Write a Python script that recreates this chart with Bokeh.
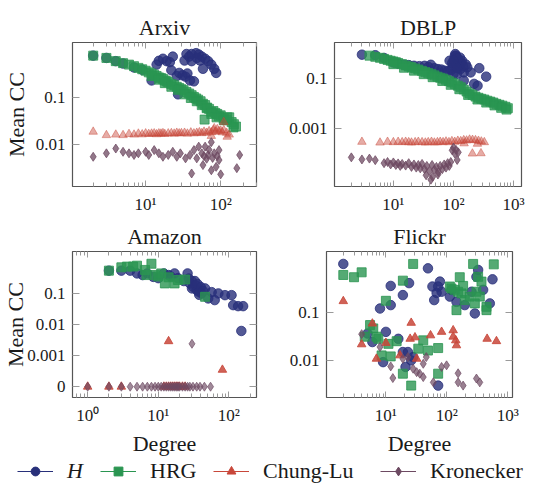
from bokeh.plotting import figure
from bokeh.layouts import column, row
from bokeh.models import Range1d, FixedTicker, LogAxis, Legend, LegendItem, CustomJSTickFormatter
from bokeh.embed import file_html
from bokeh.resources import INLINE

FONT = "Liberation Serif"
TEXT = "#1a1a1a"

# ---------------- data ----------------
# Arxiv
arxiv_H_x = [2, 3, 4, 5, 7, 9, 12, 14, 15, 17, 19, 21, 23, 22, 26, 28, 31, 34, 36, 39,
             44, 27, 33, 35, 38, 41, 47, 51, 56, 62, 68, 75, 82, 87, 58, 53, 41, 48]
arxiv_H_y = [0.83, 0.74, 0.63, 0.56, 0.46, 0.41, 0.24, 0.53, 0.64, 0.71, 0.63, 0.60, 0.79, 0.40, 0.30, 0.35, 0.31, 0.29, 0.34, 0.24,
             0.23, 0.12, 0.65, 0.90, 0.79, 0.90, 0.94, 0.88, 0.79, 0.71, 0.63, 0.53, 0.43, 0.35, 0.43, 0.65, 0.63, 0.74]
arxiv_HRG_x = [2, 3, 4, 5, 6, 7, 8, 9, 10, 11, 12, 13, 14, 15, 16, 17, 18, 19, 20, 22,
               24, 26, 28, 30, 32, 35, 38, 41, 44, 47, 50, 54, 58, 62, 66, 70, 75, 80, 85, 90,
               95, 100, 110, 120, 130, 140, 150, 160, 12, 15, 18, 22, 27, 33, 40, 48, 56, 61, 65, 75,
               88, 110, 122, 148]
arxiv_HRG_y = [0.83, 0.74, 0.63, 0.57, 0.53, 0.49, 0.45, 0.42, 0.39, 0.36, 0.34, 0.32, 0.30, 0.28, 0.27, 0.26, 0.24, 0.23, 0.22, 0.20,
               0.19, 0.175, 0.165, 0.155, 0.148, 0.135, 0.125, 0.115, 0.105, 0.098, 0.092, 0.085, 0.075, 0.07, 0.062, 0.058, 0.05, 0.052, 0.047, 0.045,
               0.04, 0.042, 0.036, 0.033, 0.038, 0.030, 0.027, 0.024, 0.30, 0.25, 0.21, 0.175, 0.15, 0.12, 0.10, 0.085, 0.07, 0.034, 0.06, 0.045,
               0.038, 0.033, 0.038, 0.023]
arxiv_CL_x = [2, 3, 4, 5, 6, 7, 8, 9, 10, 11, 12, 13, 14, 15, 16, 17, 18, 20, 22, 24,
              26, 28, 30, 33, 36, 40, 44, 48, 52, 56, 60, 65, 70, 75, 80, 85, 90, 95, 100, 105,
              110, 120, 130, 75, 110, 82, 122]
arxiv_CL_y = [0.0185, 0.0156, 0.016, 0.0156, 0.0165, 0.016, 0.0168, 0.0162, 0.017, 0.0165, 0.0168, 0.017, 0.0163, 0.017, 0.0168, 0.0172, 0.0165, 0.017, 0.0172, 0.0168,
              0.0175, 0.017, 0.0172, 0.0175, 0.0168, 0.0178, 0.017, 0.0175, 0.018, 0.0172, 0.0185, 0.0175, 0.019, 0.018, 0.02, 0.0185, 0.021, 0.019, 0.0195, 0.018,
              0.02, 0.0175, 0.016, 0.015, 0.03, 0.022, 0.0144]
arxiv_KR_x = [2, 3, 4, 5, 6, 7, 8, 10, 11, 13, 15, 17, 20, 23, 26, 29, 34, 39, 44, 48,
              51, 56, 58, 62, 68, 75, 82, 87, 95, 100, 41, 95, 179, 164, 75, 60, 65, 70, 78, 90]
arxiv_KR_y = [0.0053, 0.0063, 0.008, 0.0068, 0.0063, 0.0058, 0.0063, 0.0068, 0.0058, 0.0074, 0.0063, 0.0053, 0.0058, 0.0068, 0.0053, 0.0063, 0.0049, 0.0058, 0.0074, 0.0049,
              0.0088, 0.0063, 0.0035, 0.0088, 0.0058, 0.011, 0.0063, 0.0032, 0.0074, 0.0022, 0.0023, 0.0045, 0.0058, 0.003, 0.0027, 0.0055, 0.0048, 0.0075, 0.005, 0.0055]

# DBLP
dblp_H_x = [3, 5, 7, 10, 15, 22, 33, 42, 55, 71, 91, 107, 114, 103, 122, 139, 130, 148, 169, 193,
            268, 349, 220, 251, 148, 114, 97, 86, 100, 120, 125, 110, 12, 18, 27, 38, 48, 63, 80,
            105, 112, 118, 108, 125, 135, 145, 128, 100, 95, 116, 160]
dblp_H_y = [0.85, 0.81, 0.63, 0.42, 0.34, 0.31, 0.31, 0.34, 0.23, 0.20, 0.21, 0.90, 0.67, 0.49, 0.36, 0.49, 0.23, 0.17, 0.27, 0.17,
            0.25, 0.116, 0.06, 0.051, 0.081, 0.148, 0.31, 0.49, 0.148, 0.55, 0.42, 0.78, 0.38, 0.33, 0.30, 0.28, 0.25, 0.22, 0.19,
            0.75, 0.60, 0.45, 0.35, 0.30, 0.40, 0.30, 0.65, 0.50, 0.40, 0.25, 0.35]
dblp_HRG_x = [4, 5, 6, 7, 8, 9, 10, 11, 12, 14, 16, 18, 20, 23, 26, 30, 34, 38, 43, 48,
              54, 60, 67, 75, 84, 94, 105, 118, 132, 148, 165, 185, 207, 232, 260, 290, 325, 365, 410, 460,
              515, 580, 650, 730, 800, 10, 15, 22, 32, 45, 65, 90, 125, 175, 250, 350, 480, 620, 760]
dblp_HRG_y = [0.78, 0.70, 0.64, 0.58, 0.53, 0.49, 0.46, 0.43, 0.40, 0.36, 0.32, 0.29, 0.27, 0.245, 0.22, 0.195, 0.175, 0.16, 0.145, 0.13,
              0.115, 0.105, 0.097, 0.087, 0.077, 0.068, 0.06, 0.051, 0.044, 0.036, 0.030, 0.025, 0.022, 0.019, 0.017, 0.0155, 0.0145, 0.013, 0.012, 0.011,
              0.0098, 0.009, 0.0083, 0.0075, 0.0066, 0.36, 0.26, 0.2, 0.145, 0.11, 0.078, 0.055, 0.037, 0.022, 0.0145, 0.011, 0.0085, 0.0068, 0.0058]
dblp_CL_x = [3, 6, 8, 10, 12, 14, 16, 18, 20, 23, 26, 30, 34, 38, 43, 48, 54, 60, 67, 75,
             84, 94, 105, 118, 132, 148, 165, 185, 207, 232, 260, 290, 325, 206, 286, 150, 250]
dblp_CL_y = [0.00031, 0.00029, 0.00031, 0.0003, 0.00031, 0.0003, 0.00031, 0.0003, 0.00029, 0.0003,
             0.00031, 0.0003, 0.00029, 0.0003, 0.00031, 0.00029, 0.0003, 0.00031, 0.0003, 0.00032,
             0.0003, 0.00033, 0.00031, 0.00034, 0.00033, 0.00036, 0.00035, 0.00038, 0.00037, 0.00036,
             0.00034, 0.00032, 0.0003, 0.000107, 0.00011, 0.00027, 0.00026]
dblp_KR_x = [2, 3, 4, 5, 7, 8, 9, 10, 11, 12, 13, 14, 16, 18, 20, 22, 24, 26, 28, 30,
             33, 36, 40, 44, 48, 52, 56, 60, 65, 70, 75, 80, 85, 90, 95, 100, 105, 110, 115, 120,
             35, 45, 55, 42]
dblp_KR_y = [7.6e-5, 6.3e-5, 6.8e-5, 5.9e-5, 4.5e-5, 5e-5, 4e-5, 4.8e-5, 3.8e-5, 4.4e-5,
             3.5e-5, 4.2e-5, 3.6e-5, 4.5e-5, 3.2e-5, 4e-5, 3e-5, 3.8e-5, 2.8e-5, 4.2e-5,
             2.6e-5, 3.5e-5, 2.2e-5, 3.8e-5, 2.5e-5, 3.2e-5, 2e-5, 3.5e-5, 2.6e-5, 4e-5,
             3e-5, 4.5e-5, 3.5e-5, 5e-5, 1.45e-4, 1.85e-4, 1.07e-4, 1.5e-4, 6e-5, 1.2e-4,
             1.5e-5, 1.3e-5, 1.6e-5, 1.0e-5]

# Amazon (0 values are shown on the "0" tick)
amazon_H_x = [2, 3, 4, 5, 6, 7, 8.5, 10, 12, 14, 15, 17, 19, 23, 26, 28, 30, 31, 33, 35,
              37, 41, 46, 51, 57, 63, 71, 88, 109, 115, 135, 159, 150, 27, 30, 34, 36, 40, 43, 38]
amazon_H_y = [0.54, 0.54, 0.54, 0.44, 0.39, 0.44, 0.34, 0.31, 0.44, 0.39, 0.35, 0.44, 0.31, 0.25, 0.44, 0.21, 0.145, 0.165, 0.25, 0.13,
              0.115, 0.10, 0.145, 0.069, 0.11, 0.061, 0.10, 0.088, 0.088, 0.042, 0.039, 0.039, 0.0062, 0.30, 0.25, 0.18, 0.20, 0.16, 0.12, 0.09]
amazon_HRG_x = [2, 3, 3.6, 4.4, 5, 6.5, 8, 6.8, 9, 10, 11, 12.4, 14, 17, 19, 24, 46]
amazon_HRG_y = [0.54, 0.69, 0.73, 0.73, 0.78, 0.57, 0.9, 0.39, 0.39, 0.35, 0.44, 0.21, 0.33, 0.21, 0.27, 0.28, 0.078]
amazon_CL_x = [1, 2, 3, 12, 13, 14, 15, 16, 17, 18, 19, 20, 22, 24, 14, 81]
amazon_CL_y = [0, 0, 0, 0, 0, 0, 0, 0, 0, 0, 0, 0, 0, 0, 0.0029, 0.00035]
amazon_KR_x = [1, 2, 3, 4, 5, 6, 7, 8, 9, 10, 11, 12, 13, 14, 15, 16, 17, 18, 19, 20,
               22, 24, 26, 28, 31, 35, 39, 45, 55, 30]
amazon_KR_y = [0, 0, 0, 0, 0, 0, 0, 0, 0, 0, 0, 0, 0, 0, 0, 0, 0, 0, 0, 0,
               0, 0, 0, 0, 0, 0, 0, 0, 0, 0.0024]

# Flickr
flickr_H_x = [2, 8, 12, 12, 19, 24, 49, 58, 62, 68, 77, 82, 72, 112, 119, 144, 197, 288, 306, 326,
              394, 507, 561, 254, 5, 6, 10, 9, 16, 19, 23, 21, 26, 28, 72]
flickr_H_y = [1.0, 0.119, 0.14, 0.35, 0.226, 0.40, 0.81, 0.34, 0.178, 0.25, 0.43, 0.265, 0.34, 0.21, 0.29, 0.164, 0.14, 0.094, 0.54, 0.75,
              0.29, 0.152, 0.48, 0.265, 0.036, 0.024, 0.039, 0.0092, 0.028, 0.0149, 0.0149, 0.0073, 0.010, 0.0117, 0.003]
flickr_HRG_x = [2, 3, 4, 28, 19, 10, 163, 270, 589, 326, 370, 112, 135, 153, 174, 197, 238, 306, 347, 447,
                447, 144, 119, 185, 288, 5.5, 6.2, 4.5, 7.5, 8.5, 12, 11, 15, 41, 34, 49, 72, 19, 26, 72, 7]
flickr_HRG_y = [0.59, 0.53, 0.67, 1.0, 0.45, 0.172, 0.53, 1.0, 0.98, 0.54, 0.43, 0.34, 0.29, 0.265, 0.245, 0.178, 0.21, 0.265, 0.21, 0.129,
                0.11, 0.11, 0.31, 0.35, 0.152, 0.054, 0.046, 0.031, 0.028, 0.0127, 0.0121, 0.022, 0.025, 0.026, 0.0175, 0.016, 0.018, 0.0053, 0.003, 0.0053, 0.031]
flickr_CL_x = [2, 6, 4, 7, 10, 17, 26, 25, 30, 32, 54, 82, 127, 127, 144, 140, 458, 652]
flickr_CL_y = [0.169, 0.058, 0.0215, 0.0108, 0.023, 0.0127, 0.060, 0.028, 0.030, 0.0108, 0.033, 0.039, 0.042, 0.031, 0.0205, 0.026, 0.028, 0.025]
flickr_KR_x = [4, 8, 12, 13, 19, 23, 28, 32, 36, 41, 46, 41, 60, 82, 99, 153, 153, 185, 306, 347]
flickr_KR_y = [0.035, 0.019, 0.0075, 0.0043, 0.0108, 0.0117, 0.0067, 0.0057, 0.0053, 0.0045,
               0.0117, 0.0085, 0.0035, 0.0073, 0.0079, 0.0054, 0.0035, 0.0030, 0.0042, 0.0035]

series_names = ["H", "HRG", "Chung-Lu", "Kronecker"]
arxiv_yticks = [0.1, 0.01]
dblp_yticks = [0.1, 0.001]
amazon_yticks = [0.1, 0.01, 0.001, 1e-4]
amazon_ytick_labels = ["0.1", "0.01", "0.001", "0"]
flickr_yticks = [0.1, 0.01]
x_major = [1, 10, 100, 1000]
x_major_labels = ["10\u2070", "10\u00b9", "10\u00b2", "10\u00b3"]
ZERO_POS = 1e-4

# ---------------- style ----------------
COL = {"H": "#28307a", "HRG": "#2a9551", "CL": "#c8473a", "KR": "#6d4a62"}
MARK = {"H": "circle", "HRG": "square", "CL": "triangle", "KR": "diamond"}
SIZE = {"H": 9.5, "HRG": 9, "CL": 8.5, "KR": 9}
TICK_COL = "#9a9a9a"


def x_ticker():
    minors = [m * 10 ** k for k in range(-1, 4) for m in range(2, 10)]
    return FixedTicker(ticks=x_major, minor_ticks=minors)


def label_map_formatter(ticks, labels):
    return CustomJSTickFormatter(args=dict(keys=[float(t) for t in ticks], labels=list(labels)), code="""
        for (let i = 0; i < keys.length; i++) {
            if (Math.abs(Math.log10(tick) - Math.log10(keys[i])) < 1e-6) return labels[i];
        }
        return "";
    """)


def blank_formatter():
    return CustomJSTickFormatter(code="return '';")


def style_axis(ax, is_x, hidden=False):
    ax.axis_line_color = None
    ax.major_tick_out = 0
    ax.minor_tick_out = 0
    ax.major_tick_in = 6 if is_x else 7
    ax.minor_tick_in = 4
    ax.major_tick_line_color = TICK_COL
    ax.minor_tick_line_color = TICK_COL
    if hidden:
        ax.formatter = blank_formatter()
        ax.major_label_text_font_size = "2px"
        ax.major_label_text_color = None
        ax.major_label_standoff = 0
    else:
        ax.major_label_text_font = FONT
        ax.major_label_text_font_size = "17px"
        ax.major_label_text_color = TEXT
        ax.axis_label_text_font = FONT
        ax.axis_label_text_font_size = "22px"
        ax.axis_label_text_font_style = "normal"
        ax.axis_label_text_color = TEXT


def panel(title, xr, yr, yticks, ylabels, width, height, bl, br, bt, bb,
          ylabel=None, xlabel=None, ylabel_standoff=0):
    p = figure(width=width, height=height, x_axis_type="log", y_axis_type="log",
               x_range=Range1d(*xr), y_range=Range1d(*yr), toolbar_location=None,
               output_backend="svg", min_border_left=bl, min_border_right=br,
               min_border_top=bt, min_border_bottom=bb)
    p.grid.visible = False
    p.outline_line_color = "#555555"
    p.outline_line_width = 1.2
    p.background_fill_color = "white"
    p.border_fill_color = "white"
    p.title.text = title
    p.title.text_font = FONT
    p.title.text_font_size = "22px"
    p.title.text_font_style = "normal"
    p.title.text_color = TEXT
    p.title.align = "center"
    p.title.standoff = 6

    xa = p.xaxis[0]
    xa.ticker = x_ticker()
    xa.formatter = label_map_formatter(x_major, x_major_labels)
    style_axis(xa, True)
    xa.major_label_standoff = 8
    if xlabel:
        xa.axis_label = xlabel
        xa.axis_label_standoff = 3

    ya = p.yaxis[0]
    ya.ticker = FixedTicker(ticks=yticks, minor_ticks=[])
    ya.formatter = label_map_formatter(yticks, ylabels)
    style_axis(ya, False)
    ya.major_label_standoff = 7
    if ylabel:
        ya.axis_label = ylabel
        ya.axis_label_standoff = ylabel_standoff

    top = LogAxis(ticker=x_ticker())
    style_axis(top, True, hidden=True)
    p.add_layout(top, "above")
    right = LogAxis(ticker=FixedTicker(ticks=yticks, minor_ticks=[]))
    style_axis(right, False, hidden=True)
    p.add_layout(right, "right")
    return p


def draw(p, key, xs, ys, alpha, zero=False):
    if zero:
        ys = [v if v > 0 else ZERO_POS for v in ys]
    p.scatter(xs, ys, marker=MARK[key], size=SIZE[key], fill_color=COL[key],
              line_color=COL[key], fill_alpha=alpha, line_alpha=alpha)


p1 = panel("Arxiv", (1.06, 300), (0.0012, 1.6), arxiv_yticks, ["0.1", "0.01"],
           270, 216, 69, 14, 42, 28, ylabel="Mean CC", ylabel_standoff=4)
draw(p1, "H", arxiv_H_x, arxiv_H_y, 0.8)
draw(p1, "HRG", arxiv_HRG_x, arxiv_HRG_y, 0.75)
draw(p1, "CL", arxiv_CL_x, arxiv_CL_y, 0.45)
draw(p1, "KR", arxiv_KR_x, arxiv_KR_y, 0.75)

p2 = panel("DBLP", (1.05, 1350), (5.4e-6, 2.57), dblp_yticks, ["0.1", "0.001"],
           270, 216, 64, 19, 42, 28)
draw(p2, "H", dblp_H_x, dblp_H_y, 0.8)
draw(p2, "HRG", dblp_HRG_x, dblp_HRG_y, 0.75)
draw(p2, "CL", dblp_CL_x, dblp_CL_y, 0.45)
draw(p2, "KR", dblp_KR_x, dblp_KR_y, 0.75)

p3 = panel("Amazon", (0.61, 246), (4.5e-5, 2.23), amazon_yticks, amazon_ytick_labels,
           270, 243, 69, 14, 35, 62, ylabel="Mean CC", xlabel="Degree", ylabel_standoff=-4)
draw(p3, "H", amazon_H_x, amazon_H_y, 0.8)
draw(p3, "HRG", amazon_HRG_x, amazon_HRG_y, 0.8)
draw(p3, "CL", amazon_CL_x, amazon_CL_y, 0.85, zero=True)
draw(p3, "KR", amazon_KR_x, amazon_KR_y, 0.65, zero=True)

p4 = panel("Flickr", (1.06, 1195), (0.0017, 1.81), flickr_yticks, ["0.1", "0.01"],
           270, 243, 56, 28, 35, 62, xlabel="Degree")
draw(p4, "H", flickr_H_x, flickr_H_y, 0.8)
draw(p4, "HRG", flickr_HRG_x, flickr_HRG_y, 0.8)
draw(p4, "CL", flickr_CL_x, flickr_CL_y, 0.85)
draw(p4, "KR", flickr_KR_x, flickr_KR_y, 0.7)

# legend strip
leg = figure(width=540, height=25, toolbar_location=None, output_backend="svg",
             x_axis_location=None, y_axis_location=None, min_border=0,
             x_range=Range1d(0, 1), y_range=Range1d(0, 1))
leg.grid.visible = False
leg.outline_line_color = None
leg_x = [17, 100, 213, 380]
for key, name, lx in zip(["H", "HRG", "CL", "KR"], series_names, leg_x):
    lr = leg.line(x=[0.5], y=[-5], line_color=COL[key], line_width=1.2)
    sr = leg.scatter(x=[0.5], y=[-5], marker=MARK[key], fill_color=COL[key], line_color=COL[key])
    lg = Legend(items=[LegendItem(label=name, renderers=[lr, sr])], location=(lx, 0),
                orientation="horizontal", glyph_width=36, glyph_height=22, label_height=25,
                label_standoff=14, padding=0, margin=0, spacing=0,
                border_line_color=None, background_fill_alpha=0,
                label_text_font=FONT, label_text_font_size="22px", label_text_color=TEXT,
                label_text_font_style="italic" if key == "H" else "normal")
    leg.add_layout(lg)

layout = column(row(p1, p2), row(p3, p4), leg)
open("out.html", "w").write(file_html(layout, INLINE))
